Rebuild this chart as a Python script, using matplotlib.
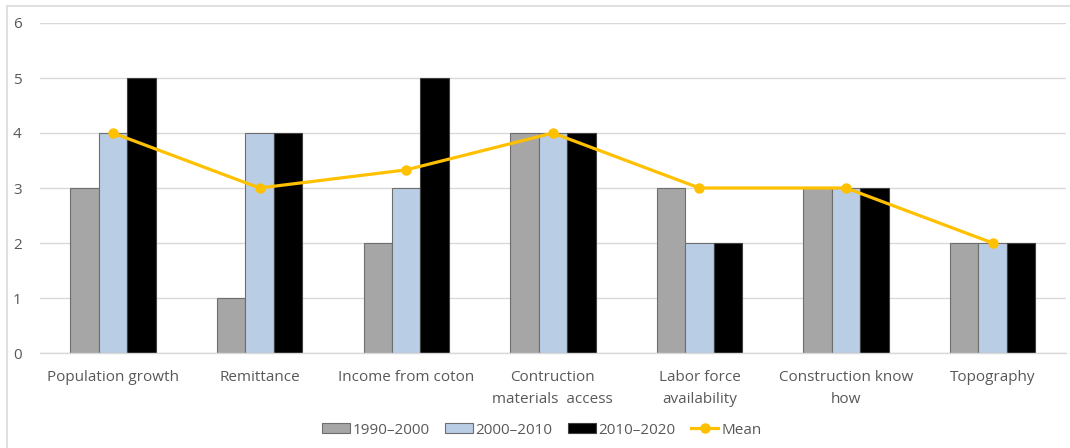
import numpy as np
import matplotlib.pyplot as plt
from matplotlib.patches import Rectangle

plt.rcParams['font.family'] = ['Open Sans', 'DejaVu Sans']

categories = ["Population growth", "Remittance", "Income from coton",
              "Contruction\nmaterials  access", "Labor force\navailability",
              "Construction know\nhow", "Topography"]
s1990 = [3, 1, 2, 4, 3, 3, 2]
s2000 = [4, 4, 3, 4, 2, 3, 2]
s2010 = [5, 4, 5, 4, 2, 3, 2]
mean = [4, 3, 3.33, 4, 3, 3, 2]
series_names = ["1990\u20132000", "2000\u20132010", "2010\u20132020", "Mean"]

TXT = "#595959"
GRID = "#D9D9D9"

fig = plt.figure(figsize=(10.7, 4.48), dpi=100)
ax = fig.add_axes([39.7 / 1070, 95 / 448, 1026.3 / 1070, 330 / 448])

# outer chart frame (only top/left edges fall inside the canvas)
fig.patches.append(Rectangle((7 / 1070, -0.5), 1.5, 0.5 + 442 / 448,
                             transform=fig.transFigure, fill=False,
                             edgecolor=GRID, linewidth=1.2, zorder=0))

x = np.arange(len(categories))
w = 0.194
b1 = ax.bar(x - w, s1990, w, color="#A6A6A6", edgecolor="#6E6E6E",
            linewidth=0.8, zorder=2)
b2 = ax.bar(x, s2000, w, color="#B9CDE5", edgecolor="#6E6E6E",
            linewidth=0.8, zorder=2)
b3 = ax.bar(x + w, s2010, w, color="#000000", edgecolor="#404040",
            linewidth=0.8, zorder=2)
ln, = ax.plot(x, mean, color="#FFC000", linewidth=2.3, marker="o",
              markersize=6.5, zorder=3)

ax.set_xlim(-0.5, len(categories) - 0.5)
ax.set_ylim(0, 6)
ax.set_yticks(range(7))
ax.set_xticks(x)
ax.set_xticklabels(categories, linespacing=1.65)
ax.tick_params(axis="both", length=0, colors=TXT, labelsize=11)
ax.tick_params(axis="x", pad=12)
ax.tick_params(axis="y", pad=13)
ax.grid(axis="y", color=GRID, linewidth=1.0, zorder=0)
ax.set_axisbelow(True)
for side in ["top", "right", "left"]:
    ax.spines[side].set_visible(False)
ax.spines["bottom"].set_color(GRID)
ax.spines["bottom"].set_linewidth(1.0)

leg = fig.legend([b1, b2, b3, ln], series_names, loc="center",
                 bbox_to_anchor=(542 / 1070, 1 - 430 / 448),
                 ncol=4, frameon=False, fontsize=11, handlelength=1.8,
                 handleheight=0.6, handletextpad=0.2, columnspacing=1.0)
for t in leg.get_texts():
    t.set_color(TXT)

fig.savefig("out.png", dpi=100)
